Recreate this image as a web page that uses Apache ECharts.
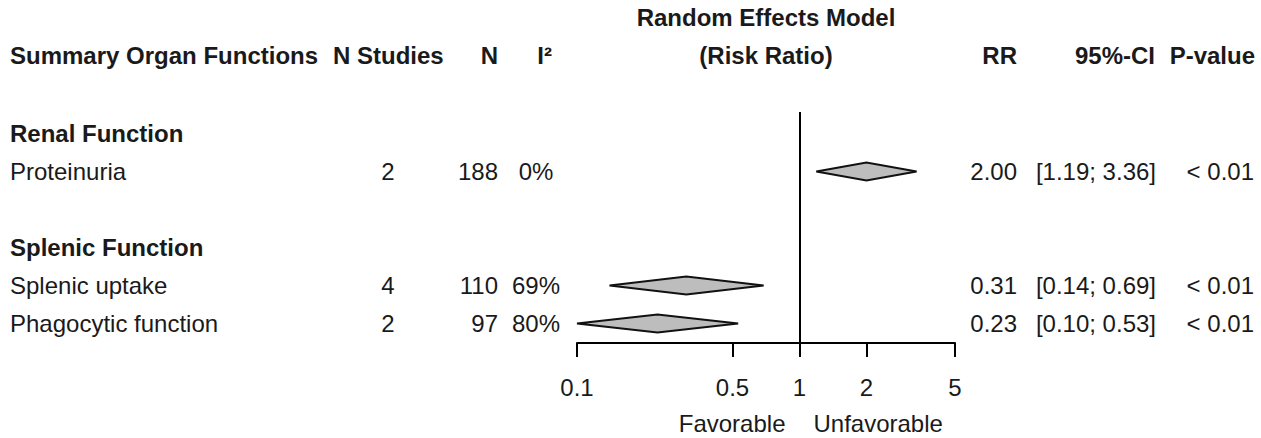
<!DOCTYPE html>
<html>
<head>
<meta charset="utf-8">
<script src="https://cdn.jsdelivr.net/npm/echarts@6/dist/echarts.min.js"></script>
<style>
html,body{margin:0;padding:0;background:#fff;}
#chart{width:1261px;height:438px;}
</style>
</head>
<body>
<div id="chart"></div>
<script>
// ---------------- data ----------------
const groups = ['Renal Function', 'Splenic Function'];
const categories = ['Proteinuria', 'Splenic uptake', 'Phagocytic function'];
const nStudies = [2, 4, 2];
const nPatients = [188, 110, 97];
const i2Values = ['0%', '69%', '80%'];
const rrValues = [2.00, 0.31, 0.23];
const ciLow = [1.19, 0.14, 0.10];
const ciHigh = [3.36, 0.69, 0.53];
const pValues = ['< 0.01', '< 0.01', '< 0.01'];
const tickValues = [0.1, 0.5, 1, 2, 5];
const tickLabels = ['0.1', '0.5', '1', '2', '5'];
const headers = ['Summary Organ Functions', 'N Studies', 'N', 'I²', '(Risk Ratio)', 'RR', '95%-CI', 'P-value'];
const forestTitle = 'Random Effects Model';
const directionLabels = ['Favorable', 'Unfavorable'];

// row indices (table layout)
const groupRows = [0, 3];
const itemRows = [1, 4, 5];

// ---------------- layout / style ----------------
const FONT = '"Liberation Sans", Arial, sans-serif';
const TEXT_COLOR = '#1a1a1a';
const cols = {
  label:  { x: 10,   align: 'left' },
  nstud:  { x: 388,  align: 'center' },
  n:      { x: 498,  align: 'right' },
  i2:     { x: 536,  align: 'center' },
  i2h:    { x: 552,  align: 'right' },
  nsh:    { x: 333,  align: 'left' },
  rr:     { x: 1017, align: 'right' },
  ci:     { x: 1156, align: 'right' },
  cih:    { x: 1155, align: 'right' },
  p:      { x: 1254, align: 'right' },
  ph:     { x: 1255, align: 'right' },
  forest: { center: true, align: 'center' },
  favL:   { ref: -14, align: 'right' },
  favR:   { ref: 14, align: 'left' }
};
const HEADER_ROW = -2.06;
const TITLE_ROW = -3.04;
const DIRECTION_ROW = 7.62;

const log10 = v => Math.log10(v);
const xMin = log10(tickValues[0]);
const xMax = log10(tickValues[tickValues.length - 1]);

// build table cells from the arrays
const cells = [];
cells.push({ col: 'forest', row: TITLE_ROW, text: forestTitle, bold: true });
const headerCols = ['label', 'nsh', 'n', 'i2h', 'forest', 'rr', 'cih', 'ph'];
headers.forEach((h, i) => cells.push({ col: headerCols[i], row: HEADER_ROW, text: h, bold: true }));
groups.forEach((g, i) => cells.push({ col: 'label', row: groupRows[i], text: g, bold: true }));
categories.forEach((c, i) => {
  const r = itemRows[i];
  cells.push({ col: 'label', row: r, text: c });
  cells.push({ col: 'nstud', row: r, text: String(nStudies[i]) });
  cells.push({ col: 'n', row: r, text: String(nPatients[i]) });
  cells.push({ col: 'i2', row: r, text: i2Values[i] });
  cells.push({ col: 'rr', row: r, text: rrValues[i].toFixed(2) });
  cells.push({ col: 'ci', row: r, text: '[' + ciLow[i].toFixed(2) + '; ' + ciHigh[i].toFixed(2) + ']' });
  cells.push({ col: 'p', row: r, text: pValues[i] });
});
cells.push({ col: 'favL', row: DIRECTION_ROW, text: directionLabels[0] });
cells.push({ col: 'favR', row: DIRECTION_ROW, text: directionLabels[1] });

const diamondData = categories.map((c, i) => [log10(ciLow[i]), log10(rrValues[i]), log10(ciHigh[i]), itemRows[i]]);

const chart = echarts.init(document.getElementById('chart'), null, { renderer: 'svg' });

chart.setOption({
  animation: false,
  backgroundColor: '#ffffff',
  grid: { left: 577, right: 306, top: 112, bottom: 95, containLabel: false },
  xAxis: {
    type: 'value',
    position: 'bottom',
    min: xMin,
    max: xMax,
    splitLine: { show: false },
    axisLine: { show: true, onZero: false, lineStyle: { color: '#000', width: 2 } },
    axisTick: { show: true, length: 14, lineStyle: { color: '#000', width: 2 },
      customValues: tickValues.map(log10) },
    axisLabel: {
      show: true,
      customValues: tickValues.map(log10),
      margin: 32,
      fontSize: 24,
      fontFamily: FONT,
      color: TEXT_COLOR,
      formatter: function (v) {
        let best = 0, bd = Infinity;
        tickValues.forEach((t, i) => { const d = Math.abs(log10(t) - v); if (d < bd) { bd = d; best = i; } });
        return tickLabels[best];
      }
    }
  },
  yAxis: {
    type: 'value',
    inverse: true,
    min: -0.566,
    max: 5.513,
    show: false,
    axisLine: { onZero: false },
    splitLine: { show: false }
  },
  series: [
    {
      type: 'custom',
      name: 'diamonds',
      data: diamondData,
      encode: { x: [0, 1, 2], y: 3 },
      clip: false,
      renderItem: function (params, api) {
        const lo = api.coord([api.value(0), api.value(3)]);
        const c = api.coord([api.value(1), api.value(3)]);
        const hi = api.coord([api.value(2), api.value(3)]);
        const h = 9;
        return {
          type: 'polygon',
          shape: { points: [[lo[0], c[1]], [c[0], c[1] - h], [hi[0], c[1]], [c[0], c[1] + h]] },
          style: { fill: '#bdbdbd', stroke: '#111', lineWidth: 2 }
        };
      },
      markLine: {
        silent: true,
        symbol: ['none', 'none'],
        label: { show: false },
        lineStyle: { color: '#000', width: 2, type: 'solid' },
        data: [{ xAxis: 0 }]
      },
      z: 3
    },
    {
      type: 'custom',
      name: 'table',
      data: cells.map(c => [0, c.row]),
      encode: { x: 0, y: 1 },
      clip: false,
      silent: true,
      renderItem: function (params, api) {
        const cell = cells[params.dataIndex];
        const col = cols[cell.col];
        const y = api.coord([0, cell.row])[1];
        let x;
        if (col.center) {
          x = (api.coord([xMin, 0])[0] + api.coord([xMax, 0])[0]) / 2;
        } else if (col.ref !== undefined) {
          x = api.coord([0, 0])[0] + col.ref;
        } else {
          x = col.x;
        }
        return {
          type: 'text',
          style: {
            text: cell.text,
            x: x,
            y: y,
            align: col.align,
            verticalAlign: 'middle',
            font: (cell.bold ? 'bold ' : '') + '24px ' + FONT,
            fill: TEXT_COLOR
          }
        };
      },
      z: 4
    }
  ]
});
</script>
</body>
</html>
